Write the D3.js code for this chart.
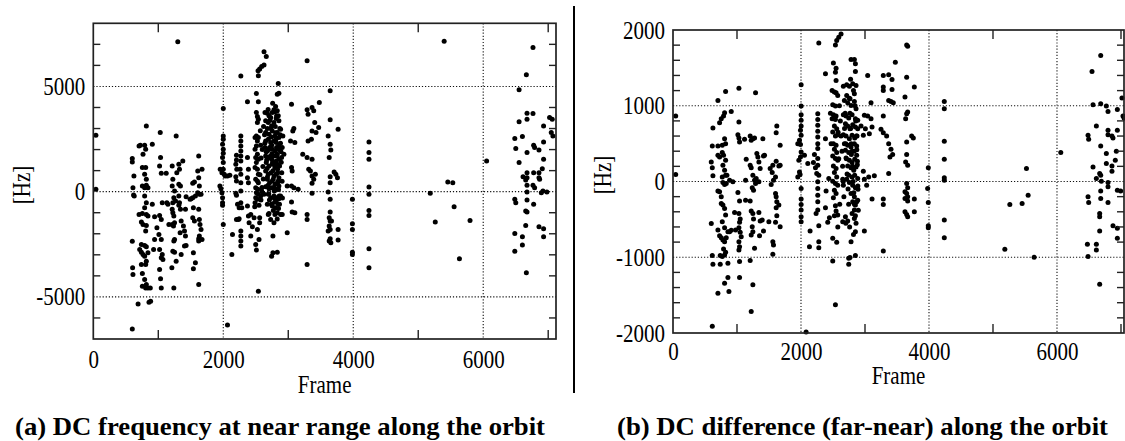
<!DOCTYPE html>
<html>
<head>
<meta charset="utf-8">
<script src="https://cdn.jsdelivr.net/npm/d3@7"></script>
<style>
  body { margin: 0; background: #fff; }
  svg { display: block; }
  text { font-family: "Liberation Serif", "Times New Roman", "DejaVu Serif", serif; fill: #000; }
</style>
</head>
<body>
<script>
// DC frequency at near range [frame, Hz]
const nearDC = [
  [40,2680],[40,110],[1300,7125],[600,-6520],[2065,-6330],[2540,-4730],[3290,-3460],[3290,6220],[2270,5500],
  [600,1571],[600,1413],[625,746],[610,190],[620,-159],[630,-206],[600,-2350],[605,-3620],[610,-3940],
  [704,2174],[724,2206],[790,2206],[806,2015],[765,1777],[755,1143],[806,1143],[790,825],[816,587],[816,302],[790,190],[755,270],[841,190],[790,-206],[816,-524],[790,-762],[704,-1079],[755,-1032],[816,-1079],[841,-1159],[740,-1444],[765,-1555],[816,-1603],[806,-1873],[740,-2507],[790,-2555],[816,-2619],[714,-2746],[740,-2873],[765,-2984],[790,-3063],[816,-3301],[841,-2904],[740,-3460],[806,-3460],[755,-3888],[790,-4174],[816,-4412],[755,-4491],[806,-4571],[841,-4571],[877,-4571],[689,-5332],[857,-5253],[882,-5205],[816,3126],[908,2254],[908,-603],[943,-1190],[928,-2746],
  [1030,2809],[1035,1619],[1020,1222],[1046,873],[1061,-524],[1020,-1127],[1046,-1317],[1010,-2031],[1046,-2269],[1020,-2746],[1061,-2984],[1046,-3142],[1071,-3222],[1020,-3698],[1035,-4142],[1046,-4571],[979,-1714],[943,-2269],
  [1122,873],[1132,-524],[1148,-603],[1214,1222],[1224,587],[1214,270],[1250,32],[1239,-286],[1224,-524],[1265,-444],[1214,-841],[1224,-1000],[1239,-1159],[1250,-1476],[1214,-1555],[1234,-1635],[1250,-2269],[1239,-2349],[1224,-2825],[1250,-2873],[1275,-3301],[1209,-3618],[1239,-4571],[1275,2650],[1285,905],[1316,1301],[1326,1063],[1316,349],[1341,270],[1316,-206],[1326,-524],[1341,-841],[1352,-1397],[1336,-1952],[1377,1460],[1352,-2984],[1403,-1873],[1418,-2111],[1403,-2587],[1428,-2555],[1316,-651],[1163,-1555],
  [1530,397],[1556,460],[1505,-333],[1530,-286],[1571,-206],[1540,-762],[1530,-1238],[1556,-1397],[1622,1698],[1607,984],[1622,667],[1632,270],[1673,1063],[1607,-48],[1632,-127],[1658,-127],[1622,-841],[1632,-1317],[1642,-1555],[1658,-1793],[1632,-2111],[1622,-2238],[1673,-2269],[1622,-2349],[1540,-2904],[1571,-3380],[1540,-3666],[1622,-4412],[1387,-1635],[1418,-841],[1428,-238],[1489,-365],
  [2000,3952],[2000,2650],[2000,2492],[1989,2254],[2000,2015],[2000,1825],[1989,1619],[2000,1381],[2000,1063],[1953,1063],[1979,905],[2015,825],[2030,746],[2066,746],[2101,778],[1948,270],[1964,143],[1979,-48],[1989,-286],[1989,-524],[1989,-651],[2000,-1555],
  [2203,1730],[2203,1508],[2193,1301],[2208,1063],[2193,714],[2203,508],[2193,-79],[2203,-175],[2219,-603],[2244,-762],[2270,2650],[2270,2412],[2270,2174],[2270,1936],[2270,1698],[2270,1460],[2259,1063],[2270,825],[2270,428],[2270,32],[2270,-524],[2285,-762],[2244,-1285],[2270,-1873],[2270,-2111],[2270,-2349],[2270,-2587],[2142,-2031],[2132,-2984],[2203,-1317],[2234,-1317],
  [2372,4269],[2372,1619],[2387,1063],[2372,667],[2387,428],[2372,-683],[2387,-1159],[2423,-1079],[2397,-1476],[2423,-2111],[2448,-1666],[2474,-1238],[2484,-714],
  [2509,4666],[2540,4269],[2509,3761],[2525,3571],[2540,3444],[2525,3285],[2509,2650],[2489,2571],[2525,2412],[2540,2571],[2509,2174],[2489,2015],[2525,1777],[2499,1619],[2540,1539],[2509,1381],[2489,1143],[2525,1063],[2540,825],[2499,587],[2525,508],[2540,428],[2499,190],[2530,111],[2509,-48],[2540,-127],[2499,-286],[2525,-365],[2489,-524],[2550,-651],[2576,-206],[2591,32],[2611,-79],[2627,-127],[2560,-1238],[2525,-1793],[2550,-2269],[2499,-2507],[2509,-2777],[2560,-1476],[2535,5745],[2560,5824],[2591,5951],[2627,6015],[2627,6650],[2662,6427],[2540,5507],
  [2642,3761],[2678,3729],[2703,3602],[2652,3364],[2693,3285],[2729,3523],[2754,3761],[2780,3888],[2805,4047],[2831,3841],[2846,3602],[2856,3364],[2831,4634],[2856,4682],[2846,5142],[2795,3793],[2815,3476],[2780,3285],[2744,3126],[2678,2999],[2652,2809],[2703,2730],[2754,2888],[2795,2650],[2831,2809],[2856,2571],[2882,2968],[2917,2650],[2652,2412],[2693,2492],[2729,2333],[2780,2412],[2815,2333],[2856,2174],[2642,2095],[2678,1936],[2713,2095],[2754,2015],[2795,1936],[2831,1777],[2866,2015],[2907,2095],[2933,1777],[2652,1698],[2703,1619],[2744,1539],[2780,1698],[2815,1460],[2856,1539],[2897,1619],[2662,1381],[2703,1222],[2754,1301],[2795,1143],[2836,1063],[2866,1222],[2652,984],[2693,825],[2734,905],[2780,746],[2815,825],[2856,667],[2678,587],[2713,428],[2754,508],[2795,349],[2836,428],[2652,238],[2703,143],[2744,190],[2785,32],[2825,111],[2856,270],[2693,-127],[2729,-286],[2780,-206],[2815,-444],[2856,-333],[2678,-603],[2754,-682],[2805,-762],[2846,-603],[2693,-1079],[2729,-1317],[2780,-1476],[2831,-1000],[2882,-1079],[2907,-1079],[2795,-1079],[2764,-2111],[2744,-3063],[2764,-2904],[2831,-2873],[2703,-1032],[2815,-286],[2882,-206],
  [2620,3100],[2635,2700],[2640,2300],[2660,1900],[2668,1500],[2675,1100],[2680,700],[2690,300],[2700,-100],[2710,-400],[2720,3400],[2730,3000],[2738,2600],[2745,2200],[2750,1800],[2760,1400],[2765,1000],[2770,600],[2778,200],[2785,-300],[2790,-500],[2800,3100],[2805,2800],[2812,2500],[2820,2100],[2825,1700],[2830,1300],[2838,900],[2842,500],[2850,100],[2860,-200],[2865,-600],[2870,3000],[2875,2700],[2880,2300],[2888,1900],[2892,1400],[2900,900],[2905,500],[2910,-300],[2600,2000],[2610,1200],[2615,600],[2595,200],[2582,1600],[2575,2200],[2570,2900],[2565,800],[2580,-400],[2690,3900],[2760,4200],[2820,3600],[2740,-600],[2770,-900],[2830,-1300],[2850,-800],[2700,2000],[2725,1700],[2805,1250],[2855,2000],
  [3050,4158],[3086,2999],[3070,2888],[3035,2412],[3101,2333],[3050,1143],[3060,984],[2984,270],[3050,270],[3086,190],[3152,111],[3050,-492],[3060,-968],[3101,-1000],[2984,-1952],[3223,1777],[3290,3888],[3305,3682],[3366,3999],[3392,3841],[3478,4237],[3366,2888],[3407,3285],[3427,2809],[3468,3047],[3305,2412],[3356,2492],[3290,1619],[3366,1539],[3315,1063],[3341,984],[3366,746],[3392,587],[3417,825],[3366,397],[3290,-1079],[3290,-1317],[3366,-79],
  [3645,4793],[3645,3412],[3767,2968],[3614,2650],[3645,2254],[3655,1984],[3630,1619],[3706,936],[3732,825],[3757,667],[3645,714],[3645,428],[3614,-16],[3645,-365],[3645,-968],[3630,-1238],[3645,-1397],[3630,-1635],[3645,-1793],[3614,-1873],[3645,-2238],[3630,-2349],[3767,-1793],[3767,-2301],[3655,-2428],[3665,-1397],
  [3987,-365],[3987,-1524],[3987,-1793],[3987,-2873],[3987,-2984],[4242,2365],[4242,1857],[4242,1539],[4242,222],[4242,-127],[4242,-889],[4242,-1127],[4242,-2714],[4242,-3618],
  [5185,-79],[5262,-1444],[5399,7142],[5455,460],[5532,428],[5552,-714],[5634,-3190],[5797,-1365],[6052,1460],
  [6486,2523],[6501,2047],[6552,3317],[6552,4840],[6603,2619],[6674,3729],[6674,3444],[6766,3714],[6674,1857],[6552,1381],[6613,714],[6674,905],[6674,667],[6654,555],[6776,905],[6858,905],[6858,667],[6868,587],[6909,1095],[6929,1539],[6929,2365],[6776,2206],[6791,2095],[6858,1984],[6929,3126],[7021,3523],[7062,3444],[7047,2809],[7072,2650],[6674,302],[6766,302],[6791,190],[6674,-16],[6919,32],[6980,-16],[6674,-397],[6486,-365],[6501,-524],[6776,-603],[6674,-968],[6654,-920],[6654,-1603],[6486,-1984],[6603,-2142],[6603,-2539],[6486,-2825],[6664,-3856],[6858,-1666],[6929,-1762],[6929,-2142],[6664,5555],[6766,6856],[6894,-48]
];

// DC difference (far - near) [frame, Hz]
const dcDiff = [
  [42,864],[42,92],[614,-1912],[2080,-1987],[2538,-1627],[1222,-1715],[702,-1474],[874,-1452],[806,-1342],[858,-1268],[1040,-1268],[1248,-1364],
  [702,1070],[624,706],[614,469],[702,469],[770,478],[806,566],[822,500],[728,776],[754,829],[790,864],[806,908],[910,925],[598,259],[614,180],[624,75],[702,346],[728,325],[770,382],[790,346],[822,281],[780,215],[806,149],[822,83],[770,61],[842,83],[702,-127],[728,-136],[754,-202],[780,-13],[806,-39],[832,-26],[754,-289],[780,-311],[806,-355],[822,-443],[770,-531],[598,-553],[702,-640],[728,-715],[754,-741],[780,-772],[806,-794],[832,-741],[858,-662],[806,-610],[790,-890],[822,-934],[806,-969],[770,-991],[738,-978],[614,-978],[624,-1092],[738,-1092],[858,-1079],[822,1189],[884,18],[936,-4],[962,-408],[978,-640],[884,-662],[910,-645],
  [1030,1232],[1030,785],[1014,618],[1030,575],[1040,522],[1014,-145],[1040,-259],[1030,-421],[1050,-496],[1040,-539],[1030,-610],[1050,-671],[1066,-728],[1030,-794],[1040,-860],[1030,-904],[1040,-1057],[1118,557],[1144,294],[1134,-246],[1134,18],[1206,601],[1222,544],[1248,566],[1274,575],[1290,1171],[1310,368],[1326,325],[1342,259],[1362,171],[1404,566],[1414,338],[1206,215],[1222,180],[1248,83],[1274,18],[1290,-26],[1238,-83],[1258,-114],[1206,-259],[1222,-390],[1248,-421],[1258,-496],[1238,-596],[1248,-662],[1222,-706],[1274,-882],[1206,-1044],[1300,39],[1342,-4],[1342,-408],[1362,-522],[1394,-509],[1414,-653],[1352,-715],[1430,346],
  [1622,732],[1612,645],[1674,478],[1518,171],[1560,215],[1612,268],[1654,206],[1674,215],[1602,61],[1550,118],[1570,18],[1534,-39],[1602,-158],[1612,-202],[1622,-268],[1654,-311],[1674,-596],[1622,-452],[1612,-346],[1602,-539],[1560,-794],[1570,-838],[1560,-961],[1498,-531],
  [2002,1276],[2002,996],[2002,882],[2002,807],[2002,732],[1992,675],[2002,610],[1976,544],[1992,487],[2002,390],[1992,325],[1966,281],[1976,127],[1950,61],[1986,92],[2002,-92],[2002,-232],[2002,-303],[2002,-377],[2002,-465],[2002,-531],[2054,346],[2106,237],[2142,-653],[2132,-860],[1950,500],
  [2210,355],[2194,250],[2226,180],[2246,105],[2262,895],[2262,820],[2262,741],[2262,662],[2262,588],[2262,500],[2262,434],[2262,303],[2262,215],[2262,-4],[2262,-92],[2262,-180],[2262,-268],[2262,-377],[2278,-583],[2278,-794],[2278,-873],[2236,-421],[2278,83],
  [2382,1421],[2382,566],[2392,-127],[2382,-346],[2418,-539],[2444,-478],[2496,-750],[2558,-803],[2434,39],
  [2278,1829],[2538,1803],[2558,1860],[2590,1904],[2626,1947],[2506,1566],[2548,1496],[2538,1443],[2548,1333],[2486,1202],[2522,1180],[2548,1171],[2574,1136],[2496,1013],[2538,996],[2506,882],[2548,864],[2486,829],[2538,820],[2522,732],[2558,697],[2496,654],[2538,601],[2574,618],[2506,500],[2548,478],[2522,425],[2558,382],[2496,338],[2538,303],[2574,281],[2506,206],[2548,171],[2522,118],[2558,61],[2496,4],[2538,-26],[2574,-48],[2522,-114],[2548,-158],[2506,-215],[2538,-320],[2548,-390],[2522,-452],[2496,-1048],[2574,-443],
  [2662,1259],[2714,1276],[2756,1259],[2808,1289],[2850,1452],[2850,1553],[2834,1610],[2782,1610],[2860,1268],[2714,1136],[2766,1092],[2834,1158],[2678,1070],[2730,1039],[2782,1004],[2834,1057],[2860,961],[2662,882],[2704,864],[2746,838],[2798,882],[2850,829],[2886,807],[2694,763],[2730,732],[2766,697],[2808,750],[2850,719],[2886,697],[2662,618],[2704,601],[2756,566],[2798,610],[2839,575],[2876,601],[2678,500],[2730,478],[2782,456],[2834,500],[2870,469],[2694,412],[2746,382],[2787,355],[2829,399],[2870,346],[2704,311],[2756,281],[2798,250],[2839,294],[2881,268],[2730,206],[2782,180],[2824,149],[2860,193],[2746,83],[2798,61],[2839,83],[2886,39],[2756,-13],[2808,-48],[2850,-83],[2782,-158],[2834,-202],[2808,-268],[2850,-311],[2870,-268],[2886,-246],[2834,-377],[2798,-421],[2850,-452],[2834,-487],[2694,-465],[2652,-531],[2730,-522],[2782,-794],[2850,-662],[2746,-1013],[2746,-1092],[2766,-1004],[2850,-978],[2938,732],[2990,873],[3042,1399],[3094,1039],[3094,829],[2974,610],[3006,697],[3068,632],[3110,719],[2974,136],[3026,-48],[3058,61],[3110,-232],[2990,-653],[2714,31],[2652,31],[2662,-48],[2891,-101],
  [2600,1000],[2615,800],[2625,600],[2640,400],[2650,200],[2660,0],[2670,-200],[2680,700],[2690,900],[2700,500],[2710,300],[2720,100],[2735,-100],[2745,-300],[2755,1100],[2765,900],[2775,700],[2785,500],[2795,400],[2805,200],[2815,0],[2825,-150],[2835,-300],[2845,1000],[2855,800],[2865,600],[2872,420],[2880,220],[2888,-60],[2895,-380],[2775,1350],[2820,1200],[2700,-550],[2760,-600],[2820,-700],[2860,-550],[2590,300],[2605,-300],[2580,650],[2575,-600],[2470,500],[2460,900],
  [3286,1399],[3286,1246],[3286,1202],[3370,1408],[3422,1346],[3422,1215],[3370,1070],[3406,1057],[3442,1039],[3474,1575],[3286,864],[3250,689],[3286,645],[3338,601],[3370,500],[3406,425],[3432,355],[3390,325],[3370,105],[3286,-232],[3286,-303],[3146,75],[3286,-917],[3042,864],[2990,31],
  [3651,1803],[3667,1785],[3651,1377],[3771,1246],[3625,1114],[3667,917],[3651,895],[3635,829],[3729,601],[3755,575],[3651,522],[3651,355],[3635,259],[3667,215],[3989,180],[3651,-26],[3667,-83],[3979,-92],[3625,-136],[3651,-158],[3667,-202],[3625,-224],[3771,-232],[3667,-259],[3989,-276],[3625,-399],[3651,-434],[3667,-465],[3771,-399],[3989,-583],[3989,-610],
  [4239,1057],[4239,961],[4239,531],[4239,294],[4239,48],[4239,18],[4239,-509],[4239,-741],
  [5185,-895],[5263,-303],[5455,-289],[5549,-180],[5523,171],[5643,-1000],[6059,382],
  [6547,1452],[6683,1662],[6563,1013],[6683,1026],[6771,996],[6797,925],[6943,952],[7015,1101],[7031,864],[6615,732],[6485,610],[6495,557],[6683,469],[6797,675],[6797,618],[6859,601],[6875,575],[6943,675],[6771,368],[6927,399],[6911,281],[6771,237],[6859,206],[6859,136],[6563,193],[6615,39],[6667,105],[6683,83],[6693,4],[6797,-13],[6797,-70],[6683,-127],[6683,-224],[6943,-114],[6995,-127],[6485,-202],[6495,-276],[6797,-276],[6667,-421],[6667,-465],[6667,-653],[6875,-583],[6943,-618],[6943,-750],[6475,-829],[6615,-829],[6615,-904],[6485,-991],[6667,-1355],[7047,838]
];

// axes: grid (dotted) values, small tick values, labels
const gridXA = [2000, 4000, 6000];
const gridYA = [-5000, 0, 5000];
const minorXA = [1000, 3000, 5000, 7000];
const minorYA = [-6000, -4000, -3000, -2000, -1000, 1000, 2000, 3000, 4000, 6000, 7000];
const labelXA = [0, 2000, 4000, 6000];
const labelYA = [-5000, 0, 5000];

const gridXB = [2000, 4000, 6000];
const gridYB = [-1000, 0, 1000];
const minorXB = [1000, 3000, 5000, 7000];
const minorYB = [-1800, -1600, -1400, -1200, -800, -600, -400, -200, 200, 400, 600, 800, 1200, 1400, 1600, 1800];
const labelXB = [0, 2000, 4000, 6000];
const labelYB = [-2000, -1000, 0, 1000, 2000];

const captions = ['(a) DC frequency at near range along the orbit', '(b) DC difference (far-near) along the orbit'];

const svg = d3.select('body').append('svg').attr('width', 1125).attr('height', 441);

const serif = '"Liberation Serif", "Times New Roman", "DejaVu Serif", serif';

// squeeze text horizontally, like the narrow serif in the scan
const squeeze = function() {
    const x = +this.getAttribute('x') || 0;
    d3.select(this).attr('transform', `translate(${x},0) scale(0.84,1) translate(${-x},0)`);
};

const panel = (p) => {
    const x = d3.scaleLinear().domain(p.xDomain).range([p.left, p.right]);
    const y = d3.scaleLinear().domain(p.yDomain).range([p.bottom, p.top]);
    const g = svg.append('g');

    // dotted grid
    g.selectAll('.gx').data(p.gridX).enter().append('line')
        .attr('x1', d => x(d)).attr('x2', d => x(d))
        .attr('y1', p.top).attr('y2', p.bottom)
        .attr('stroke', '#111').attr('stroke-width', 1.1).attr('stroke-dasharray', '1.2,1.9');
    g.selectAll('.gy').data(p.gridY).enter().append('line')
        .attr('x1', p.left).attr('x2', p.right)
        .attr('y1', d => y(d)).attr('y2', d => y(d))
        .attr('stroke', '#111').attr('stroke-width', 1.1).attr('stroke-dasharray', '1.2,1.9');

    // points
    g.selectAll('circle').data(p.data).enter().append('circle')
        .attr('cx', d => x(d[0])).attr('cy', d => y(d[1]))
        .attr('r', 2.5).attr('fill', '#000');

    // inward ticks on all four sides
    const tk = g.append('g').attr('stroke', '#222').attr('stroke-width', 1.4);
    p.minorX.forEach(v => {
        tk.append('line').attr('x1', x(v)).attr('x2', x(v)).attr('y1', p.bottom).attr('y2', p.bottom - 9);
        tk.append('line').attr('x1', x(v)).attr('x2', x(v)).attr('y1', p.top).attr('y2', p.top + 9);
    });
    p.minorY.forEach(v => {
        tk.append('line').attr('x1', p.left).attr('x2', p.left + 7).attr('y1', y(v)).attr('y2', y(v));
        tk.append('line').attr('x1', p.right).attr('x2', p.right - 7).attr('y1', y(v)).attr('y2', y(v));
    });

    g.append('rect')
        .attr('x', p.left).attr('y', p.top)
        .attr('width', p.right - p.left).attr('height', p.bottom - p.top)
        .attr('fill', 'none').attr('stroke', '#222').attr('stroke-width', 1.7);

    // tick labels, plain hyphen for negatives as in the original
    const fmt = d => String(d);
    const ax = g.append('g').attr('transform', `translate(0,${p.bottom})`)
        .call(d3.axisBottom(x).tickValues(p.labelX).tickSize(0).tickPadding(p.xPad).tickFormat(fmt));
    const ay = g.append('g').attr('transform', `translate(${p.left},0)`)
        .call(d3.axisLeft(y).tickValues(p.labelY).tickSize(0).tickPadding(8).tickFormat(fmt));
    [ax, ay].forEach(a => {
        a.attr('font-family', serif).attr('font-size', 25);
        a.select('.domain').remove();
        a.selectAll('text').attr('font-family', serif).attr('font-size', 25).attr('fill', '#000').each(squeeze);
    });

    g.append('text').attr('x', (p.left + p.right) / 2).attr('y', p.frameY)
        .attr('text-anchor', 'middle').attr('font-family', serif).attr('font-size', 25).text('Frame').each(squeeze);

    g.append('text').attr('transform', `translate(${p.hzX},${p.hzY}) rotate(-90) scale(0.84,1)`)
        .attr('text-anchor', 'middle').attr('dy', '0.35em').attr('font-family', serif).attr('font-size', 25).text('[Hz]');

    g.append('text').attr('x', p.capX).attr('y', 435)
        .attr('font-family', serif).attr('font-size', 25).attr('font-weight', 'bold')
        .attr('textLength', p.capW).attr('lengthAdjust', 'spacingAndGlyphs')
        .text(p.caption);
};

panel({
    left: 93.3, right: 556, top: 23.3, bottom: 339,
    xDomain: [0, 7120], yDomain: [-7000, 8000],
    gridX: gridXA, gridY: gridYA, minorX: minorXA, minorY: minorYA,
    labelX: labelXA, labelY: labelYA, xPad: 11, frameY: 393,
    hzX: 21, hzY: 185, data: nearDC,
    caption: captions[0], capX: 15, capW: 530
});

panel({
    left: 673, right: 1124, top: 30, bottom: 333,
    xDomain: [0, 7047], yDomain: [-2000, 2000],
    gridX: gridXB, gridY: gridYB, minorX: minorXB, minorY: minorYB,
    labelX: labelXB, labelY: labelYB, xPad: 9, frameY: 384,
    hzX: 602, hzY: 175, data: dcDiff,
    caption: captions[1], capX: 617, capW: 491
});

// divider between the two sub-figures
svg.append('line').attr('x1', 574).attr('x2', 574).attr('y1', 6).attr('y2', 393)
    .attr('stroke', '#000').attr('stroke-width', 2);
</script>
</body>
</html>
